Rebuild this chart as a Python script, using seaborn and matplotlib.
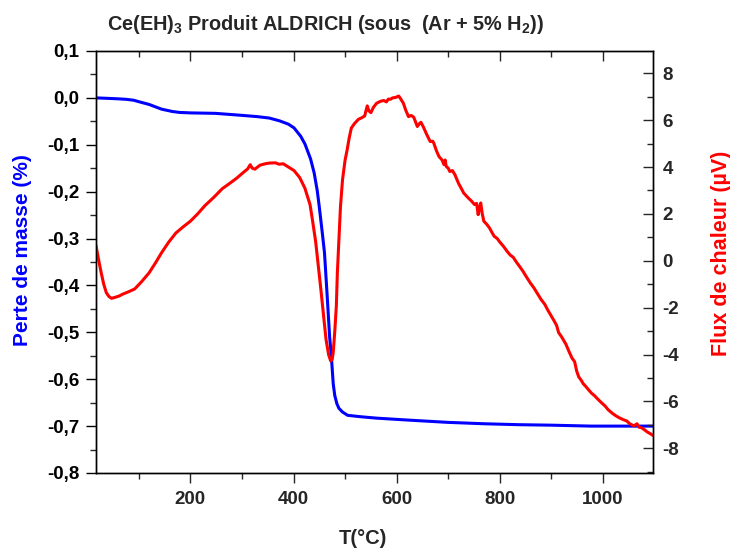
import matplotlib
matplotlib.use("Agg")
import matplotlib.pyplot as plt
import seaborn as sns
import pandas as pd
from matplotlib.ticker import FuncFormatter, MultipleLocator

# ---- data ----
T_mass = [17, 40, 60, 75, 90, 103, 120, 144, 165, 179, 200, 249, 297, 330, 353, 373, 390,
          401, 414, 422, 433, 440, 446, 450, 456, 460, 465, 470, 473, 477, 480, 484, 488,
          495, 505, 530, 561, 620, 699, 770, 838, 900, 977, 1097]
mass = [0.0, -0.001, -0.002, -0.003, -0.005, -0.009, -0.014, -0.024, -0.029, -0.031, -0.032,
        -0.033, -0.037, -0.040, -0.043, -0.049, -0.056, -0.064, -0.082, -0.098, -0.13, -0.16,
        -0.198, -0.233, -0.29, -0.33, -0.418, -0.51, -0.546, -0.61, -0.635, -0.652, -0.662,
        -0.670, -0.677, -0.680, -0.683, -0.687, -0.692, -0.695, -0.697, -0.698, -0.700, -0.700]

T_heat = [17, 22, 27, 32, 37, 42, 47, 55, 62, 68, 80, 92, 105, 120, 132, 144, 158, 172, 186,
          200, 214, 228, 245, 262, 276, 290, 300, 311, 316, 320, 325, 335, 345, 353, 365, 372,
          380, 390, 401, 412, 422, 432, 437, 443, 448, 453, 458, 463, 468, 472, 475, 477, 480,
          483, 485, 488, 491, 495, 500, 504, 508, 512, 518, 526, 532, 538, 541, 543, 546, 550,
          555, 561, 568, 575, 580, 584, 588, 592, 598, 604, 608, 613, 618, 623, 628, 633, 637,
          640, 644, 647, 652, 658, 665, 670, 672, 677, 682, 688, 692, 694, 696, 700, 703, 708,
          713, 720, 725, 730, 738, 745, 751, 755, 758, 761, 763, 766, 769, 775, 780, 785, 789,
          795, 800, 807, 814, 820, 826, 832, 838, 845, 852, 859, 866, 873, 880, 887, 893, 900,
          905, 910, 914, 920, 928, 935, 940, 945, 949, 953, 958, 962, 966, 972, 978, 984, 990,
          997, 1004, 1010, 1018, 1025, 1032, 1040, 1046, 1052, 1060, 1066, 1070, 1074, 1080,
          1086, 1093, 1097]
heat = [0.65, 0.05, -0.5, -1.0, -1.36, -1.52, -1.60, -1.55, -1.50, -1.43, -1.32, -1.20, -0.90,
        -0.51, -0.10, 0.34, 0.80, 1.19, 1.45, 1.69, 2.0, 2.35, 2.70, 3.08, 3.30, 3.53, 3.72,
        3.92, 4.10, 3.95, 3.91, 4.08, 4.14, 4.17, 4.18, 4.12, 4.14, 4.0, 3.85, 3.55, 3.10,
        2.40, 1.70, 0.80, -0.2, -1.22, -2.3, -3.35, -4.0, -4.27, -4.2, -3.90, -3.0, -1.93,
        -0.5, 0.91, 2.3, 3.46, 4.3, 4.74, 5.25, 5.66, 5.85, 6.04, 6.1, 6.18, 6.45, 6.61, 6.4,
        6.32, 6.55, 6.72, 6.80, 6.84, 6.78, 6.90, 6.89, 6.95, 6.97, 7.03, 6.9, 6.72, 6.4,
        6.15, 6.2, 6.13, 5.9, 5.73, 5.85, 5.91, 5.7, 5.4, 5.09, 5.1, 5.02, 4.7, 4.45, 4.3,
        4.1, 4.3, 4.03, 3.95, 3.81, 3.85, 3.67, 3.3, 3.1, 2.89, 2.7, 2.55, 2.40, 2.45, 1.97,
        2.3, 2.47, 2.0, 1.69, 1.55, 1.40, 1.20, 1.05, 0.95, 0.80, 0.62, 0.41, 0.25, 0.15,
        -0.05, -0.23, -0.45, -0.70, -0.94, -1.15, -1.40, -1.65, -1.85, -2.10, -2.36, -2.55,
        -2.75, -3.06, -3.25, -3.55, -3.91, -4.15, -4.3, -4.70, -4.95, -5.10, -5.25, -5.34,
        -5.50, -5.65, -5.76, -5.90, -6.05, -6.19, -6.35, -6.50, -6.61, -6.70, -6.78, -6.83,
        -6.95, -7.04, -6.95, -7.10, -7.11, -7.2, -7.3, -7.39, -7.45]

title = r"Ce(EH)$_\mathbf{3}$ Produit ALDRICH (sous  (Ar + 5% H$_\mathbf{2}$))"
xlabel = "T(°C)"
ylabel_left = "Perte de masse (%)"
ylabel_right = "Flux de chaleur (µV)"

# ---- style ----
sns.set_style("white")
plt.rcParams["font.family"] = ["Liberation Sans", "DejaVu Sans"]
plt.rcParams["font.weight"] = "bold"
plt.rcParams["axes.unicode_minus"] = False
plt.rcParams["mathtext.fontset"] = "custom"
plt.rcParams["mathtext.rm"] = "Liberation Sans:bold"
plt.rcParams["mathtext.bf"] = "Liberation Sans:bold"
plt.rcParams["mathtext.it"] = "Liberation Sans:bold"

fig = plt.figure(figsize=(7.3, 5.49), dpi=100)
ax = fig.add_axes([96/730, 1-473/549, (653-96)/730, (473-51)/549])
ax2 = ax.twinx()

df_mass = pd.DataFrame({"T": T_mass, "m": mass})
df_heat = pd.DataFrame({"T": T_heat, "f": heat})

sns.lineplot(data=df_mass, x="T", y="m", ax=ax, color="#0000ff", linewidth=2.2, sort=False)
sns.lineplot(data=df_heat, x="T", y="f", ax=ax2, color="#ff0000", linewidth=2.2, sort=False)

ax.set_xlim(17, 1097)
ax.set_ylim(-0.8, 0.1)
ax2.set_ylim(-9.05, 8.95)

ax.xaxis.set_major_locator(MultipleLocator(200))
ax.xaxis.set_minor_locator(MultipleLocator(100))
ax.yaxis.set_major_locator(MultipleLocator(0.1))
ax.yaxis.set_minor_locator(MultipleLocator(0.05))
ax2.yaxis.set_major_locator(MultipleLocator(2))
ax2.yaxis.set_minor_locator(MultipleLocator(1))

def comma_fmt(v, p):
    s = f"{round(v, 1) + 0.0:.1f}"
    if s == "-0.0":
        s = "0.0"
    return s.replace(".", ",")

ax.yaxis.set_major_formatter(FuncFormatter(comma_fmt))
ax2.yaxis.set_major_formatter(FuncFormatter(lambda v, p: f"{int(round(v))}"))

for a in (ax, ax2):
    for s in a.spines.values():
        s.set_color("black")
        s.set_linewidth(1.0)

ax.tick_params(axis="y", which="major", direction="out", length=7, width=1, labelsize=13.5, pad=5, left=True, right=False, colors="black")
ax.tick_params(axis="y", which="minor", direction="out", length=4, width=1, left=True, right=False)
ax.tick_params(axis="x", which="major", direction="out", length=7, width=1, labelsize=13.5, pad=6, bottom=True, top=False)
ax.tick_params(axis="x", which="minor", direction="out", length=4, width=1, bottom=True, top=False)
ax2.tick_params(axis="y", which="major", direction="in", length=7, width=1, labelsize=13.5, right=True, left=False, pad=7)
ax2.tick_params(axis="y", which="minor", direction="in", length=4, width=1, right=True, left=False)

# top ticks (inward)
sec = ax.secondary_xaxis("top")
sec.xaxis.set_major_locator(MultipleLocator(200))
sec.xaxis.set_minor_locator(MultipleLocator(100))
sec.tick_params(axis="x", which="major", direction="in", length=7, width=1, labeltop=False)
sec.tick_params(axis="x", which="minor", direction="in", length=4, width=1)
sec.spines["top"].set_visible(False)

for lab in ax.get_xticklabels() + ax.get_yticklabels() + ax2.get_yticklabels():
    lab.set_fontweight("bold")

ax.set_xlabel("")
ax.set_ylabel("")
ax2.set_ylabel("")

fig.text(363/730, 1-538/549, xlabel, ha="center", va="center", fontsize=14.5, fontweight="bold")
fig.text(23/730, 1-250/549, ylabel_left, ha="center", va="center", rotation=90,
         fontsize=15, fontweight="bold", color="#0000ff")
fig.text(721/730, 1-253.5/549, ylabel_right, ha="center", va="center", rotation=90,
         fontsize=15.5, fontweight="bold", color="#ff0000")
fig.text(107/730, 1-24/549, title, ha="left", va="center", fontsize=14.3, fontweight="bold")

fig.savefig("out.png", dpi=100)
